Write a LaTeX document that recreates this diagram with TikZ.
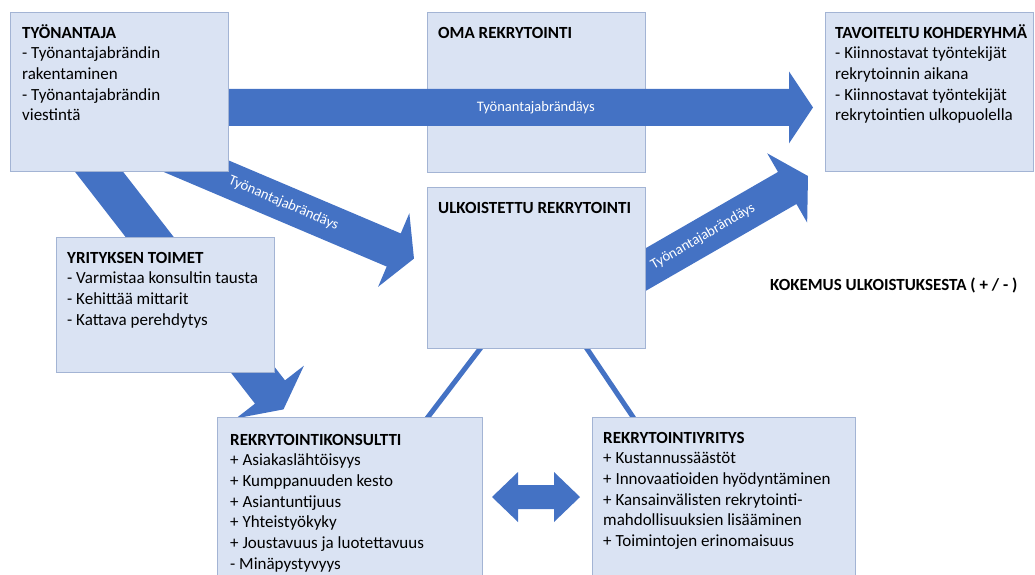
\documentclass[tikz,border=0pt]{standalone}
\usepackage{fontspec}
\setmainfont{Carlito}
\usetikzlibrary{calc}
\definecolor{boxfill}{HTML}{DAE3F3}
\definecolor{boxline}{HTML}{A3B4D4}
\definecolor{arrowblue}{HTML}{4472C4}
\pgfdeclarelayer{back}
\pgfdeclarelayer{arrowlayer}
\pgfsetlayers{back,arrowlayer,main}
\newcommand\boxlines[1]{\begin{tabular}[t]{@{}l@{}}#1\end{tabular}}
\newcommand\blockarrow[7]{%
  \fill[arrowblue] let \p1=(#1), \p2=(#2),
    \n1={atan2(\y2-\y1,\x2-\x1)}, \n2={veclen(\x2-\x1,\y2-\y1)} in
    [shift={(\p1)}, rotate=\n1]
    (0pt,-#3) -- ({\n2-#5},-#3) -- ({\n2-#5},-#4) -- (\n2,0pt)
    -- ({\n2-#5},#4) -- ({\n2-#5},#3) -- (0pt,#3) -- cycle
    (#7,0pt) node[lbl, rotate=\n1] {#6};}
\tikzset{
  box/.style={draw=boxline, fill=boxfill, line width=0.8pt, inner sep=0pt, anchor=north west},
  txt/.style={anchor=base west, inner sep=0pt, text=black,
    font=\fontsize{17}{20.7}\selectfont},
  lbl/.style={text=white, inner sep=0pt, font=\fontsize{14.5}{17}\selectfont},
  conn/.style={draw=arrowblue, line width=5pt},
}
\begin{document}
\begin{tikzpicture}[x=1pt, y=-1pt]
\useasboundingbox (0,0) rectangle (1035,574);
% boxes
\begin{pgfonlayer}{back}
\node[box, minimum width=218pt, minimum height=160pt] (oma) at (427,12) {};
\end{pgfonlayer}
\node[box, minimum width=218pt, minimum height=159pt] (ty) at (10,12) {};
\node[box, minimum width=208pt, minimum height=159pt] (tav) at (825,12) {};
\node[box, minimum width=218pt, minimum height=161pt] (ulk) at (427,187) {};
\node[box, minimum width=218pt, minimum height=135pt] (yri) at (56,237) {};
\node[box, minimum width=265pt, minimum height=175pt] (kon) at (217,417) {};
\node[box, minimum width=263pt, minimum height=175pt] (rek) at (592,417) {};
% texts
\node[txt] (tyt) at ($(ty.north west)+(12,26)$) {\boxlines{\textbf{TYÖNANTAJA}\\- Työnantajabrändin\\rakentaminen\\- Työnantajabrändin\\viestintä}};
\node[txt] (omat) at ($(oma.north west)+(11,26)$) {\textbf{OMA REKRYTOINTI}};
\node[txt] (tavt) at ($(tav.north west)+(10,26)$) {\boxlines{\textbf{TAVOITELTU KOHDERYHMÄ}\\- Kiinnostavat työntekijät\\rekrytoinnin aikana\\- Kiinnostavat työntekijät\\rekrytointien ulkopuolella}};
\node[txt] (ulkt) at ($(ulk.north west)+(11,26)$) {\textbf{ULKOISTETTU REKRYTOINTI}};
\node[txt] (yrit) at ($(yri.north west)+(11,26)$) {\boxlines{\textbf{YRITYKSEN TOIMET}\\- Varmistaa konsultin tausta\\- Kehittää mittarit\\- Kattava perehdytys}};
\node[txt] (kont) at ($(kon.north west)+(13,28)$) {\boxlines{\textbf{REKRYTOINTIKONSULTTI}\\+ Asiakaslähtöisyys\\+ Kumppanuuden kesto\\+ Asiantuntijuus\\+ Yhteistyökyky\\+ Joustavuus ja luotettavuus\\- Minäpystyvyys}};
\node[txt] (rekt) at ($(rek.north west)+(11,26)$) {\boxlines{\textbf{REKRYTOINTIYRITYS}\\+ Kustannussäästöt\\+ Innovaatioiden hyödyntäminen\\+ Kansainvälisten rekrytointi-\\mahdollisuuksien lisääminen\\+ Toimintojen erinomaisuus}};
\node[txt] (kok) at (770,290) {\textbf{KOKEMUS ULKOISTUKSESTA ( + / - )}};
% arrows
\begin{pgfonlayer}{arrowlayer}
\coordinate (a1s) at ($(ty.east)+(-28,15.5)$);
\coordinate (a1e) at ($(tav.west)+(-12,15.5)$);
\coordinate (a2s) at (150,146.6);
\coordinate (a2e) at (414,258.6);
\coordinate (a3s) at (86,155);
\coordinate (a3e) at (283.5,409.4);
\coordinate (a4s) at (631,278);
\coordinate (a4e) at (808,176);
\blockarrow{a1s}{a1e}{18.5pt}{36pt}{24pt}{Työnantajabrändäys}{335pt}
\blockarrow{a2s}{a2e}{18pt}{40pt}{22pt}{Työnantajabrändäys}{145pt}
\blockarrow{a3s}{a3e}{19pt}{43pt}{22pt}{}{100pt}
\blockarrow{a4s}{a4e}{18.5pt}{40pt}{24pt}{Työnantajabrändäys}{83pt}
\draw[conn] ($(ulk.south west)+(55.3,-3)$) -- ($(kon.north west)+(208.7,3)$);
\draw[conn] ($(ulk.south west)+(158,-3)$) -- ($(rek.north west)+(43,3)$);
\fill[arrowblue] (492,497) -- (518,472) -- (518,485) -- (554,485) -- (554,472)
  -- (580,497) -- (554,522) -- (554,509) -- (518,509) -- (518,522) -- cycle;
\end{pgfonlayer}
\end{tikzpicture}
\end{document}
